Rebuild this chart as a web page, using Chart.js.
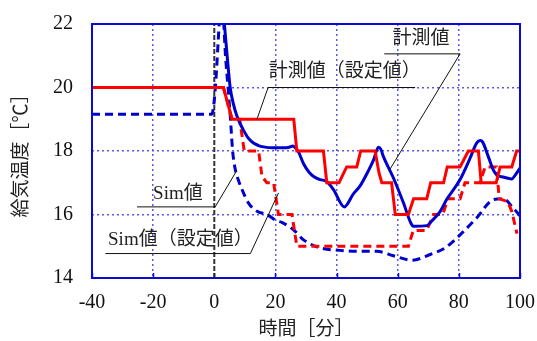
<!DOCTYPE html>
<html>
<head>
<meta charset="utf-8">
<script src="https://cdn.jsdelivr.net/npm/chart.js@4.4.0/dist/chart.umd.min.js"></script>
<style>
  html, body { margin: 0; padding: 0; background: #fff; }
  #wrap { width: 537px; height: 341px; }
</style>
</head>
<body>
<div id="wrap"><canvas id="tempChart" width="537" height="341"></canvas></div>
<script>
// 計測値（設定値） - red solid
const measSetX = [-40, 3, 5.8, 26, 27, 35.7, 36.8, 40.8, 43.3, 46.6, 47.9, 52.6, 53.9, 54.8, 58, 59.2, 63.5, 65.2, 69.5, 70.8, 75, 76.2, 80.4, 83.1, 86.4, 87.3, 92.2, 93.5, 97.3, 98.9, 100];
const measSetY = [20, 20, 19, 19, 18, 18, 17, 17, 17.5, 17.5, 18, 18, 17.3, 17, 17, 16, 16, 16.5, 16.5, 17, 17, 17.5, 17.5, 18, 18, 17, 17, 17.5, 17.5, 18, 18];

// Sim値（設定値） - red dashed
const simSetX = [-40, 3, 5.8, 8.3, 9.8, 14.5, 15.6, 17.2, 19.4, 21, 25.4, 27, 63.5, 65.1, 69.5, 71.7, 74.7, 76.5, 80.4, 82, 86.9, 88.6, 92.3, 93.2, 96, 97.3, 99];
const simSetY = [20, 20, 19, 19, 18, 18, 17.2, 17, 17, 16, 16, 15, 15, 15.5, 15.5, 16, 16, 16.5, 16.5, 17, 17, 17.5, 17.5, 16.5, 16.4, 16.1, 15.4];

// 計測値 - blue solid
const measX = [2.8, 3.3, 4.2, 5.2, 6.2, 7.4, 8.5, 9.6, 11, 12.8, 14.5, 16.1, 19, 22.6, 24.5, 25.7, 26.5, 27.5, 29.2, 31, 32.5, 34.6, 36.8, 39, 42.5, 45.5, 47.7, 50, 52.1, 53.7, 54.5, 55.3, 58.6, 61.9, 64.2, 65.1, 69.5, 71, 73.9, 76, 80.4, 83.7, 85.8, 87, 87.8, 89.6, 91.3, 92.4, 94.5, 97.3, 98.5, 100];
const measY = [22.6, 22, 21, 20, 19.5, 19.1, 18.85, 18.65, 18.42, 18.25, 18.17, 18.13, 18.1, 18.1, 18.12, 18.16, 18.1, 17.98, 17.6, 17.33, 17.2, 17.1, 17.04, 16.78, 16.24, 16.65, 16.9, 17.3, 17.72, 18.12, 18.05, 17.83, 17.15, 16.36, 15.75, 15.63, 15.65, 15.78, 16.1, 16.47, 17.1, 17.78, 18.25, 18.33, 18.28, 17.83, 17.4, 17.25, 17.18, 17.12, 17.25, 17.46];

// Sim値 - blue dashed
const simX = [-40, -0.8, 0, 0.7, 1.3, 1.8, 2.5, 3.1, 3.6, 4.5, 5.3, 6, 6.9, 8, 9.1, 11.2, 14, 17.2, 20.5, 22.1, 25.9, 29.2, 34.6, 41.2, 47.7, 53.2, 58.6, 64.6, 70.6, 75.5, 80.4, 85.8, 91.3, 94.5, 97.8, 100];
const simY = [19.16, 19.16, 19.6, 20.5, 21.5, 22.3, 22.6, 22, 21.1, 20, 19, 18, 17.4, 17.05, 16.78, 16.36, 16.1, 16.0, 15.8, 15.75, 15.52, 15.2, 14.95, 14.87, 14.84, 14.84, 14.7, 14.56, 14.74, 14.95, 15.36, 15.89, 16.47, 16.5, 16.2, 15.96];

// x = 0 reference line
const zeroX = [0, 0];
const zeroY = [14, 22];

const xTicks = [-40, -20, 0, 20, 40, 60, 80, 100];
const yTicks = [14, 16, 18, 20, 22];

// callouts: label centre, underline ends, leader target (data units)
const callouts = [
  { text: "計測値", tx: 67.6, ty: 21.53, u0: 55.6, u1: 80.4, uy: 21.06, from: 80.4, px: 57.5, py: 17.43 },
  { text: "計測値（設定値）", tx: 42.7, ty: 20.5, u0: 17.6, u1: 65.7, uy: 20.0, from: 17.6, px: 13.95, py: 19.0 },
  { text: "Sim値", tx: -11.9, ty: 16.65, u0: -25.3, u1: 0.3, uy: 16.24, from: 0.3, px: 7.2, py: 17.36 },
  { text: "Sim値（設定値）", tx: -11.1, ty: 15.21, u0: -35.6, u1: 11.8, uy: 14.77, from: 11.8, px: 21, py: 16.68 }
];

const JP = '"Liberation Serif", "Noto Sans CJK JP", serif';
const gridColor = "#5a5ae6";
const frameColor = "#0a0ad2";

function pts(xs, ys) {
  return xs.map((x, i) => ({ x: x, y: ys[i] }));
}

const overlay = {
  id: "overlay",
  afterDatasetsDraw(chart) {
    const { ctx, chartArea: a, scales: { x, y } } = chart;
    ctx.save();
    ctx.setLineDash([]);
    // frame
    ctx.strokeStyle = frameColor;
    ctx.lineWidth = 2;
    ctx.strokeRect(a.left, a.top, a.right - a.left, a.bottom - a.top);
    // inward tick marks
    ctx.lineWidth = 1.5;
    xTicks.forEach(v => {
      const px = Math.round(x.getPixelForValue(v)) + 0.5;
      ctx.strokeStyle = v === 0 ? "#222" : frameColor;
      ctx.beginPath();
      ctx.moveTo(px, a.bottom);
      ctx.lineTo(px, a.bottom - 5);
      ctx.stroke();
    });
    // callouts
    ctx.font = "19px " + JP;
    ctx.textAlign = "center";
    ctx.textBaseline = "middle";
    ctx.fillStyle = "#222";
    ctx.strokeStyle = "#111";
    ctx.lineWidth = 1;
    callouts.forEach(c => {
      ctx.fillText(c.text, x.getPixelForValue(c.tx), y.getPixelForValue(c.ty));
      const uy = y.getPixelForValue(c.uy);
      ctx.beginPath();
      ctx.moveTo(x.getPixelForValue(c.u0), uy);
      ctx.lineTo(x.getPixelForValue(c.u1), uy);
      ctx.moveTo(x.getPixelForValue(c.from), uy);
      ctx.lineTo(x.getPixelForValue(c.px), y.getPixelForValue(c.py));
      ctx.stroke();
    });
    ctx.restore();
  }
};

new Chart(document.getElementById("tempChart"), {
  type: "scatter",
  data: {
    datasets: [
      { label: "計測値（設定値）", data: pts(measSetX, measSetY), borderColor: "#ff0000", borderWidth: 3, tension: 0, order: 1 },
      { label: "計測値", data: pts(measX, measY), borderColor: "#0000cc", borderWidth: 3, cubicInterpolationMode: "monotone", order: 2 },
      { label: "Sim値（設定値）", data: pts(simSetX, simSetY), borderColor: "#ff0000", borderWidth: 3, borderDash: [8, 5], tension: 0, order: 3 },
      { label: "Sim値", data: pts(simX, simY), borderColor: "#0000cc", borderWidth: 3, borderDash: [8, 5], cubicInterpolationMode: "monotone", order: 4 },
      { label: "0", data: pts(zeroX, zeroY), borderColor: "#333", borderWidth: 2, borderDash: [5, 2], order: 5 }
    ].map(d => Object.assign({ showLine: true, pointRadius: 0, pointHoverRadius: 0, fill: false }, d))
  },
  options: {
    responsive: false,
    devicePixelRatio: 1,
    animation: false,
    events: [],
    layout: { padding: { left: 0, right: 17, top: 24, bottom: 0 } },
    plugins: { legend: { display: false }, tooltip: { enabled: false } },
    scales: {
      x: {
        type: "linear",
        min: -40,
        max: 100,
        afterBuildTicks: s => { s.ticks = xTicks.map(v => ({ value: v })); },
        afterFit: s => { s.height = 63; s.paddingLeft = 0; s.paddingRight = 0; },
        ticks: { autoSkip: false, maxRotation: 0, padding: 13, color: "#111", font: { family: "Liberation Serif", size: 20 } },
        grid: { color: c => (c.tick && c.tick.value === 0 ? "rgba(0,0,0,0)" : gridColor), lineWidth: 1.5, drawTicks: false },
        border: { display: false, dash: [2, 3] },
        title: { display: true, text: "時間［分］", color: "#222", font: { family: JP, size: 19 }, padding: { top: 0, bottom: 0 } }
      },
      y: {
        min: 14,
        max: 22,
        afterBuildTicks: s => { s.ticks = yTicks.map(v => ({ value: v })); },
        afterFit: s => { s.width = 92; s.paddingTop = 0; s.paddingBottom = 0; },
        ticks: { padding: 19, color: "#111", font: { family: "Liberation Serif", size: 20 } },
        grid: { color: gridColor, lineWidth: 1.5, drawTicks: false },
        border: { display: false, dash: [2, 3] },
        title: { display: true, text: "給気温度［℃］", color: "#222", font: { family: JP, size: 19 }, padding: { top: 11, bottom: 0 } }
      }
    }
  },
  plugins: [overlay]
});
</script>
</body>
</html>
